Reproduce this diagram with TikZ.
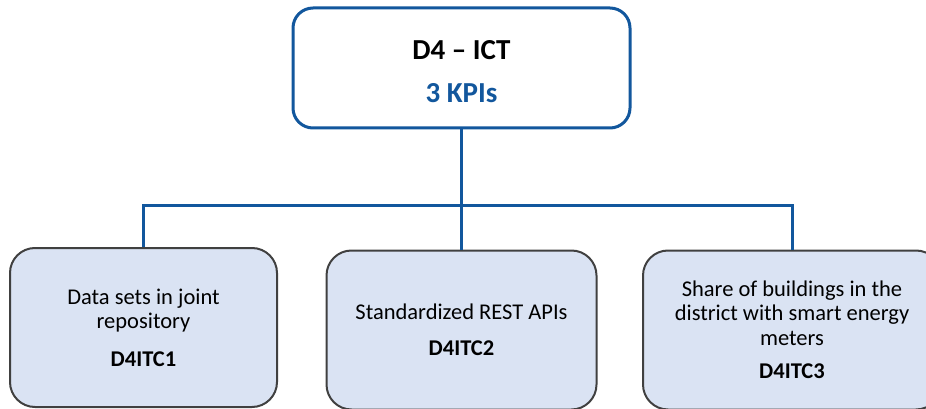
\documentclass[tikz,border=0pt]{standalone}
\usepackage{fontspec}
\setmainfont{Carlito}
\definecolor{kpiblue}{HTML}{12579D}
\definecolor{boxfill}{HTML}{DAE3F3}
\definecolor{boxedge}{HTML}{404040}
\tikzset{
  topbox/.style={draw=kpiblue, line width=3pt, fill=white, rounded corners=20pt,
    minimum width=337pt, minimum height=120pt, align=center, inner sep=0pt,
    font=\fontsize{29}{35}\selectfont\bfseries},
  kpibox/.style={draw=boxedge, line width=2pt, fill=boxfill, rounded corners=25pt,
    minimum height=159pt, align=center, inner sep=0pt,
    font=\fontsize{22.5}{24.5}\selectfont},
  conn/.style={draw=kpiblue, line width=3pt}
}
\begin{document}
\begin{tikzpicture}[x=1pt,y=-1pt]
\useasboundingbox (0,0) rectangle (926,409);
\clip (0,0) rectangle (926,409);
\node[topbox] (top) at (461.5,68) {\rule{0pt}{27pt}D4 -- ICT\\[8pt]\textcolor{kpiblue}{3 KPIs}};
\coordinate (bus) at (461.5,205);
\node[kpibox, minimum width=267pt] (b1) at (143.5,327.5)
  {Data sets in joint\\repository\\[13pt]\textbf{D4ITC1}};
\node[kpibox, minimum width=270pt] (b2) at (461.5,330)
  {Standardized REST APIs\\[11pt]\textbf{D4ITC2}};
\node[kpibox, minimum width=298pt] (b3) at (792,330)
  {Share of buildings in the\\district with smart energy\\meters\\[9pt]\textbf{D4ITC3}};
\draw[conn] (top.south) -- (bus);
\draw[conn] (b1.north) |- (bus) -| (b3.north);
\draw[conn] (bus) -- (b2.north);
\end{tikzpicture}
\end{document}
